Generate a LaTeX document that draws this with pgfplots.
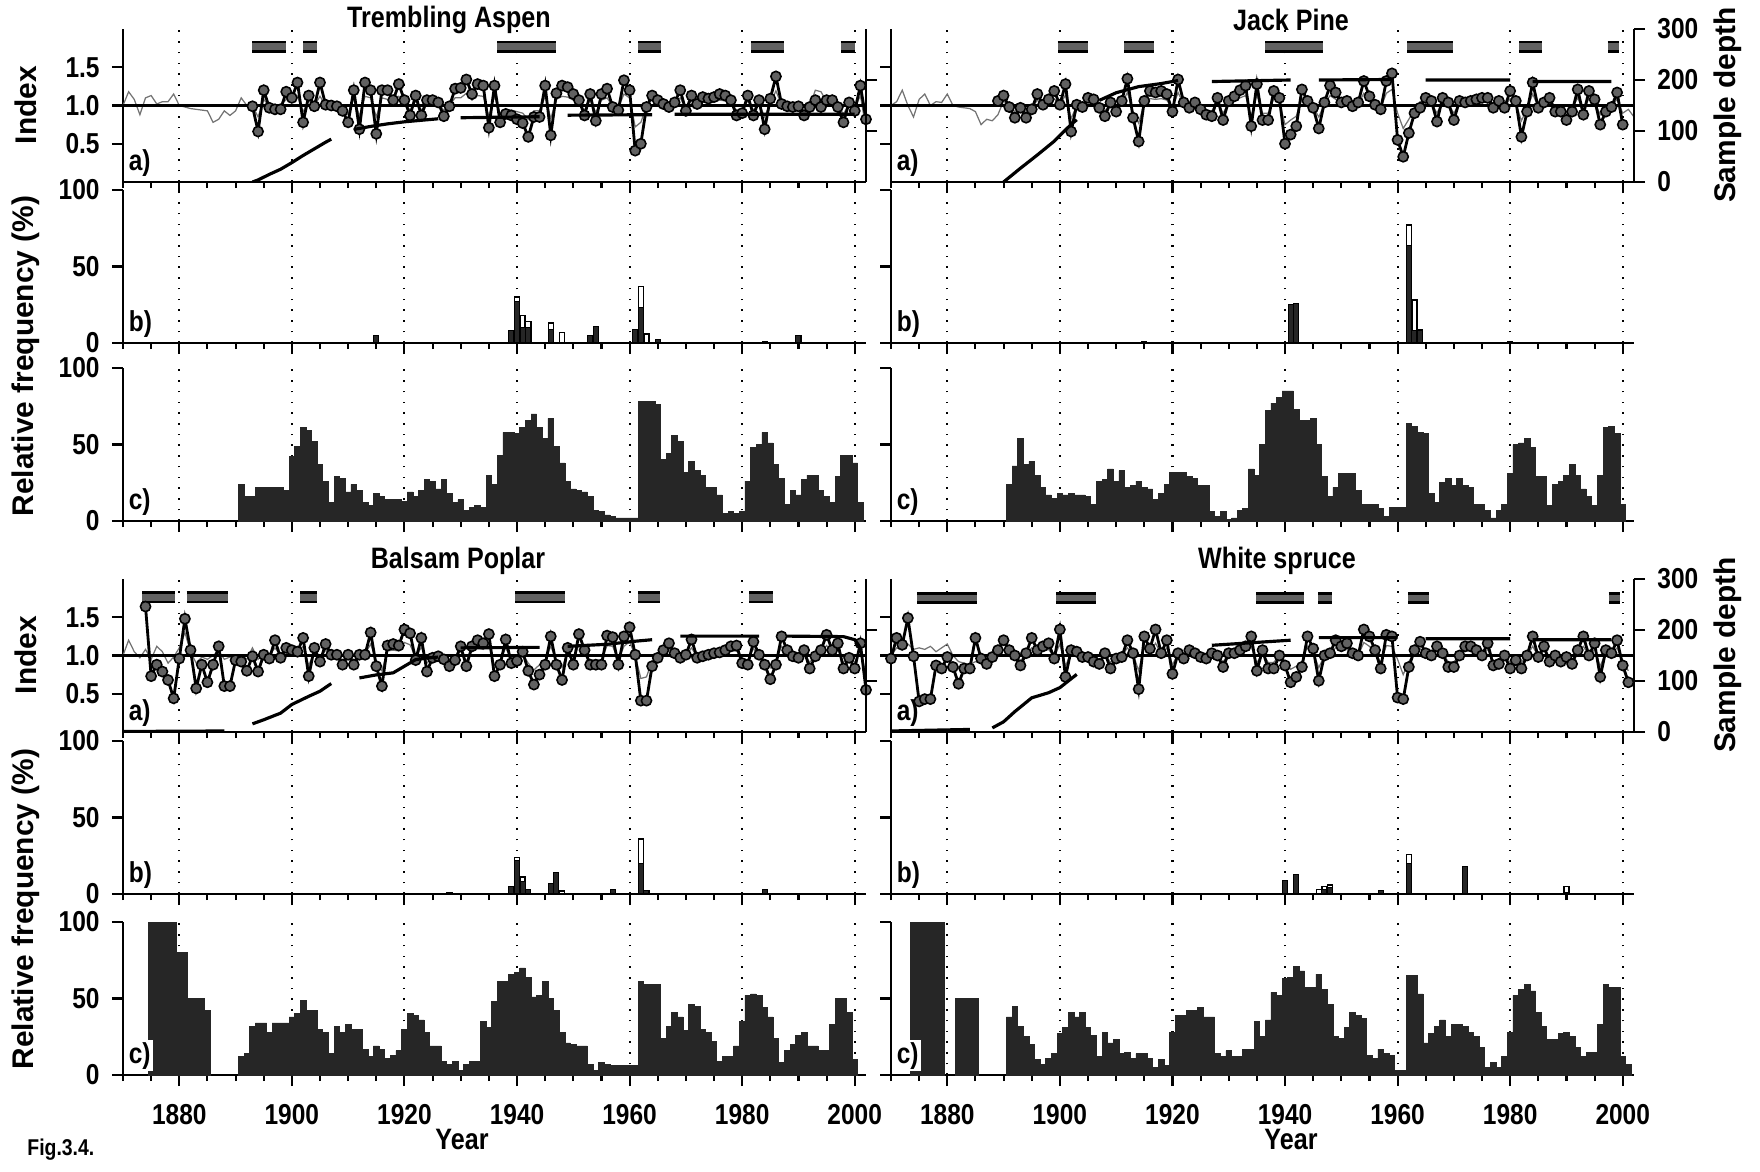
\documentclass[border=0pt]{standalone}
\usepackage{fontspec}
\setmainfont{Liberation Sans}
\newfontfamily\narrowsans{Liberation Sans}[FakeStretch=0.85]
\usepackage{pgfplots}
\usepackage{pgfplotstable}
\pgfplotsset{compat=1.18}

\newcommand\tickfont{\narrowsans\bfseries\fontsize{8.2}{8}\selectfont}
\newcommand\labfont{\bfseries\fontsize{8.5}{9}\selectfont}
\newcommand\titfont{\narrowsans\bfseries\fontsize{8.4}{9}\selectfont}

\pgfplotsset{
  panel/.style={
    scale only axis, width=74.3mm, height=15.3mm, anchor=south west,
    xmin=1870, xmax=2002,
    axis x line=bottom, axis y line=left, axis line style={-, line width=0.6pt},
    xtick={1880,1900,...,2000}, minor xtick={1870,1875,...,2000},
    xticklabels={},
    xmajorgrids,
    major grid style={black, line width=0.6pt, dash pattern=on 0.45pt off 2.6pt},
    tick align=outside, major tick length=1.1mm, minor tick length=0.6mm,
    every tick/.style={black, line width=0.6pt},
    tick label style={font=\tickfont},
    /pgf/number format/assume math mode=true,
  },
  apanel/.style={panel, ymin=0, ymax=2, ytick={0.5,1,1.5}, yticklabels={}},
  fpanel/.style={panel, ymin=0, ymax=100, ytick={0,50,100}, yticklabels={}},
  bottomx/.style={xticklabels={1880,1900,1920,1940,1960,1980,2000},
    xticklabel style={yshift=-0.6mm}},
  depthaxis/.style={
    scale only axis, width=74.3mm, height=15.3mm, anchor=south west,
    xmin=1870, xmax=2002, ymin=0, ymax=300,
    axis x line=none, axis y line=right, axis line style={-, line width=0.6pt},
    tick align=outside, major tick length=1.1mm,
    every tick/.style={black, line width=0.6pt},
    tick label style={font=\tickfont},
    ytick={0,100,200,300}, yticklabels={},
  },
  thinline/.style={black!55, line width=0.35pt, no markers},
  meanline/.style={black, line width=0.8pt, no markers},
  thickline/.style={black, line width=0.8pt, mark=*, mark size=1.45pt,
    mark options={fill=black!62, draw=black, line width=0.45pt}},
  depthline/.style={black, line width=0.9pt, no markers, unbounded coords=jump},
  perout/.style={black, line width=3.4pt, line cap=butt, no markers, unbounded coords=jump},
  perin/.style={black!62, line width=1.8pt, line cap=butt, no markers, unbounded coords=jump},
  histbar/.style={ybar, bar width=1, bar shift=0pt, fill=black!85, draw=black!85, line width=0.2pt},
  blackbar/.style={ybar, bar width=0.9, bar shift=0pt, fill=black!85, draw=black, line width=0.3pt},
  whitebar/.style={ybar, bar width=0.9, bar shift=0pt, fill=white, draw=black, line width=0.4pt},
}
\tikzset{panlab/.style={anchor=south west, font=\tickfont, fill=white, inner sep=0.6pt, xshift=0.3mm, yshift=0.3mm}}

% ---------------- index chronologies: year, thin, thick ----------------
\pgfplotstableread{
year thin thick
1870 1.00 nan
1871 1.18 nan
1872 1.08 nan
1873 0.88 nan
1874 1.10 nan
1875 1.13 nan
1876 1.02 nan
1877 1.05 nan
1878 1.05 nan
1879 1.15 nan
1880 1.00 nan
1881 0.98 nan
1882 0.96 nan
1883 0.95 nan
1884 0.94 nan
1885 0.93 nan
1886 0.78 nan
1887 0.82 nan
1888 0.93 nan
1889 0.87 nan
1890 0.93 nan
1891 1.10 nan
1892 1.00 nan
1893 1.00 0.99
1894 0.85 0.66
1895 1.08 1.20
1896 0.99 0.97
1897 0.97 0.95
1898 1.00 0.95
1899 1.08 1.18
1900 1.04 1.10
1901 1.12 1.30
1902 0.92 0.78
1903 1.06 1.13
1904 1.00 0.99
1905 1.12 1.30
1906 1.00 1.01
1907 0.98 1.00
1908 1.00 0.99
1909 0.96 0.93
1910 0.88 0.78
1911 1.10 1.20
1912 0.86 0.69
1913 1.12 1.30
1914 1.10 1.20
1915 0.85 0.63
1916 1.10 1.20
1917 1.08 1.20
1918 1.03 1.07
1919 1.12 1.28
1920 1.03 1.07
1921 0.94 0.87
1922 1.06 1.13
1923 0.94 0.87
1924 1.03 1.07
1925 1.03 1.07
1926 1.02 1.04
1927 0.94 0.86
1928 1.00 0.99
1929 1.10 1.22
1930 1.10 1.23
1931 1.16 1.34
1932 1.07 1.15
1933 1.13 1.28
1934 1.12 1.26
1935 0.86 0.71
1936 1.12 1.26
1937 0.90 0.78
1938 0.95 0.89
1939 0.94 0.87
1940 0.92 0.82
1941 0.90 0.77
1942 0.82 0.59
1943 0.93 0.85
1944 0.93 0.85
1945 1.12 1.26
1946 0.83 0.61
1947 1.08 1.16
1948 1.12 1.26
1949 1.11 1.24
1950 1.07 1.15
1951 1.03 1.07
1952 0.94 0.87
1953 1.07 1.15
1954 0.91 0.80
1955 1.07 1.15
1956 1.10 1.22
1957 0.99 0.98
1958 0.97 0.94
1959 1.15 1.33
1960 1.10 1.20
1961 0.72 0.41
1962 0.78 0.50
1963 0.99 0.98
1964 1.15 1.13
1965 1.03 1.07
1966 1.01 1.02
1967 0.99 0.98
1968 1.02 1.04
1969 1.10 1.20
1970 0.96 0.93
1971 1.06 1.13
1972 1.01 1.02
1973 1.05 1.11
1974 1.04 1.09
1975 1.05 1.11
1976 1.07 1.15
1977 1.06 1.13
1978 1.03 1.07
1979 0.94 0.87
1980 0.95 0.90
1981 1.06 1.13
1982 0.94 0.87
1983 1.03 1.07
1984 0.85 0.69
1985 1.04 1.09
1986 1.19 1.38
1987 1.01 1.02
1988 1.00 0.99
1989 0.99 0.98
1990 1.00 0.99
1991 0.94 0.87
1992 0.99 0.98
1993 1.20 1.07
1994 1.18 0.98
1995 1.05 1.07
1996 1.03 1.07
1997 0.99 0.98
1998 0.89 0.78
1999 1.02 1.04
2000 0.96 0.93
2001 1.13 1.26
2002 0.70 0.82
}\aspen

\pgfplotstableread{
year thin thick
1870 1.00 nan
1871 1.05 nan
1872 1.20 nan
1873 1.00 nan
1874 0.85 nan
1875 1.08 nan
1876 1.15 nan
1877 1.00 nan
1878 1.05 nan
1879 1.04 nan
1880 1.15 nan
1881 1.00 nan
1882 0.98 nan
1883 0.97 nan
1884 0.96 nan
1885 0.92 nan
1886 0.75 nan
1887 0.82 nan
1888 0.80 nan
1889 0.88 1.06
1890 1.06 1.13
1891 0.99 0.98
1892 0.92 0.84
1893 0.98 0.97
1894 0.92 0.84
1895 0.97 0.95
1896 1.07 1.15
1897 1.00 1.01
1898 1.04 1.08
1899 1.09 1.19
1900 1.00 1.01
1901 1.14 1.28
1902 0.83 0.66
1903 1.00 1.01
1904 0.99 0.98
1905 1.05 1.10
1906 1.04 1.08
1907 0.98 0.97
1908 0.93 0.86
1909 1.02 1.04
1910 0.96 0.92
1911 1.03 1.06
1912 1.17 1.35
1913 0.92 0.84
1914 0.77 0.53
1915 1.03 1.06
1916 1.09 1.19
1917 1.08 1.17
1918 1.09 1.19
1919 1.07 1.15
1920 0.96 0.92
1921 1.17 1.34
1922 1.02 1.04
1923 0.98 0.97
1924 1.02 1.04
1925 0.97 0.95
1926 0.94 0.88
1927 0.93 0.86
1928 1.05 1.10
1929 0.90 0.81
1930 1.03 1.06
1931 1.06 1.12
1932 1.10 1.20
1933 1.13 1.26
1934 0.86 0.73
1935 1.14 1.28
1936 0.90 0.81
1937 0.90 0.81
1938 1.09 1.19
1939 1.05 1.10
1940 0.75 0.50
1941 0.81 0.62
1942 0.86 0.73
1943 1.10 1.21
1944 1.03 1.06
1945 0.98 0.97
1946 0.85 0.70
1947 1.02 1.04
1948 1.13 1.26
1949 1.08 1.17
1950 1.02 1.04
1951 1.03 1.06
1952 1.00 0.99
1953 1.02 1.04
1954 1.16 1.32
1955 1.06 1.12
1956 1.00 1.01
1957 0.97 0.95
1958 1.16 1.32
1959 1.21 1.42
1960 0.90 0.55
1961 0.70 0.33
1962 0.82 0.64
1963 0.95 0.90
1964 1.05 0.97
1965 1.05 1.10
1966 1.03 1.06
1967 0.90 0.79
1968 1.05 1.10
1969 1.02 1.04
1970 0.90 0.81
1971 1.03 1.06
1972 1.02 1.04
1973 1.03 1.06
1974 1.04 1.08
1975 1.05 1.10
1976 1.05 1.10
1977 0.98 0.97
1978 1.03 1.06
1979 0.98 0.97
1980 1.09 1.19
1981 1.03 1.06
1982 0.80 0.59
1983 0.96 0.92
1984 1.15 1.30
1985 0.98 0.97
1986 1.02 1.04
1987 1.05 1.10
1988 0.96 0.92
1989 0.96 0.92
1990 0.90 0.81
1991 0.96 0.92
1992 1.10 1.21
1993 0.94 0.88
1994 1.09 1.19
1995 1.04 1.08
1996 0.88 0.75
1997 0.96 0.92
1998 0.99 0.98
1999 1.08 1.17
2000 0.90 0.75
2001 0.95 nan
2002 0.85 nan
}\jack

\pgfplotstableread{
year thin thick
1870 1.00 nan
1871 1.20 nan
1872 1.05 nan
1873 0.97 nan
1874 1.08 1.64
1875 0.95 0.73
1876 1.12 0.88
1877 1.05 0.79
1878 0.90 0.68
1879 0.98 0.44
1880 1.10 0.96
1881 1.30 1.48
1882 1.05 1.07
1883 0.90 0.57
1884 0.98 0.88
1885 0.95 0.65
1886 1.00 0.88
1887 1.06 1.12
1888 0.95 0.60
1889 0.98 0.60
1890 0.97 0.94
1891 1.00 0.92
1892 0.95 0.80
1893 1.10 0.99
1894 0.95 0.79
1895 1.05 1.01
1896 1.00 0.96
1897 1.10 1.20
1898 1.00 0.97
1899 1.05 1.10
1900 1.04 1.07
1901 1.03 1.05
1902 1.12 1.23
1903 0.87 0.73
1904 1.05 1.10
1905 0.96 0.92
1906 1.07 1.15
1907 1.00 1.01
1908 1.00 1.01
1909 0.94 0.88
1910 1.00 1.01
1911 0.94 0.88
1912 1.00 1.01
1913 1.02 1.01
1914 1.15 1.30
1915 0.93 0.86
1916 0.80 0.60
1917 1.06 1.13
1918 1.07 1.15
1919 1.06 1.13
1920 1.17 1.34
1921 1.14 1.29
1922 0.97 0.94
1923 1.11 1.23
1924 0.90 0.79
1925 0.98 0.97
1926 1.00 0.99
1927 0.98 0.95
1928 0.93 0.86
1929 0.97 0.94
1930 1.06 1.12
1931 0.93 0.86
1932 1.06 1.12
1933 1.10 1.20
1934 1.08 1.16
1935 1.14 1.28
1936 0.87 0.73
1937 0.94 0.88
1938 1.10 1.21
1939 0.95 0.90
1940 0.97 0.93
1941 1.02 1.05
1942 0.90 0.80
1943 0.81 0.62
1944 0.88 0.75
1945 0.94 0.88
1946 1.12 1.25
1947 0.94 0.88
1948 0.84 0.68
1949 1.05 1.10
1950 0.94 0.88
1951 1.14 1.28
1952 1.03 1.07
1953 0.94 0.88
1954 0.94 0.88
1955 0.94 0.88
1956 1.13 1.26
1957 1.12 1.24
1958 0.94 0.88
1959 1.12 1.25
1960 1.18 1.37
1961 1.00 1.01
1962 0.70 0.41
1963 0.72 0.41
1964 0.93 0.86
1965 0.98 0.97
1966 1.03 1.07
1967 1.08 1.16
1968 1.01 1.03
1969 0.98 0.97
1970 1.00 1.01
1971 1.10 1.21
1972 0.98 0.97
1973 1.00 0.99
1974 1.00 1.01
1975 1.01 1.03
1976 1.02 1.04
1977 1.03 1.07
1978 1.06 1.12
1979 1.06 1.13
1980 0.95 0.90
1981 0.94 0.88
1982 1.09 1.18
1983 1.00 1.01
1984 0.94 0.88
1985 0.84 0.69
1986 0.94 0.88
1987 1.12 1.25
1988 1.03 1.07
1989 1.00 0.99
1990 0.98 0.97
1991 1.03 1.07
1992 0.91 0.83
1993 1.00 0.99
1994 1.03 1.07
1995 1.13 1.27
1996 1.03 1.07
1997 1.08 1.16
1998 0.91 0.83
1999 0.98 0.97
2000 0.91 0.83
2001 1.08 1.16
2002 0.75 0.55
}\balsam

\pgfplotstableread{
year thin thick
1870 1.00 0.96
1871 1.10 1.23
1872 1.07 1.14
1873 1.15 1.49
1874 1.08 0.99
1875 1.10 0.40
1876 1.08 0.43
1877 1.12 0.43
1878 1.05 0.87
1879 1.10 0.83
1880 1.15 0.98
1881 1.00 0.85
1882 0.92 0.63
1883 0.90 0.83
1884 0.88 0.83
1885 0.92 1.23
1886 0.90 0.96
1887 0.93 0.89
1888 0.97 0.98
1889 1.03 1.07
1890 1.08 1.20
1891 1.03 1.07
1892 1.00 1.00
1893 0.93 0.87
1894 1.02 1.03
1895 1.10 1.23
1896 1.04 1.07
1897 1.06 1.12
1898 1.08 1.16
1899 0.98 0.96
1900 1.15 1.34
1901 0.86 0.72
1902 1.04 1.07
1903 1.03 1.05
1904 0.99 0.98
1905 0.99 0.98
1906 0.96 0.92
1907 0.94 0.89
1908 1.02 1.03
1909 0.91 0.83
1910 0.98 0.96
1911 0.99 0.98
1912 1.10 1.20
1913 1.02 1.03
1914 0.80 0.56
1915 1.12 1.25
1916 1.04 1.09
1917 1.16 1.34
1918 1.02 1.03
1919 1.10 1.20
1920 0.88 0.76
1921 1.02 1.03
1922 0.98 0.96
1923 1.04 1.07
1924 1.02 1.03
1925 0.99 0.98
1926 0.98 0.96
1927 1.02 1.03
1928 1.00 1.00
1929 0.92 0.85
1930 1.02 1.03
1931 1.02 1.03
1932 1.04 1.07
1933 1.06 1.12
1934 1.12 1.25
1935 0.90 0.80
1936 1.04 1.07
1937 0.91 0.83
1938 0.91 0.83
1939 1.00 1.00
1940 0.93 0.87
1941 0.82 0.65
1942 0.86 0.72
1943 0.92 0.85
1944 1.12 1.25
1945 1.04 1.09
1946 0.84 0.67
1947 1.00 1.00
1948 1.02 1.03
1949 1.10 1.20
1950 1.06 1.12
1951 1.08 1.16
1952 1.02 1.03
1953 1.00 1.00
1954 1.17 1.34
1955 1.12 1.25
1956 1.04 1.07
1957 0.91 0.83
1958 1.13 1.27
1959 1.12 1.25
1960 0.95 0.45
1961 0.75 0.43
1962 0.92 0.85
1963 1.04 1.07
1964 1.09 1.18
1965 1.02 1.03
1966 1.00 1.00
1967 1.06 1.12
1968 1.02 1.03
1969 0.92 0.85
1970 0.92 0.85
1971 1.00 1.00
1972 1.06 1.12
1973 1.06 1.12
1974 1.04 1.07
1975 1.00 1.00
1976 1.08 1.16
1977 0.93 0.87
1978 0.94 0.89
1979 1.00 1.00
1980 0.91 0.83
1981 0.97 0.94
1982 0.91 0.83
1983 1.00 1.00
1984 1.12 1.25
1985 0.99 0.98
1986 1.06 1.12
1987 0.96 0.92
1988 1.00 1.00
1989 0.96 0.92
1990 0.99 0.98
1991 0.94 0.89
1992 1.04 1.07
1993 1.12 1.25
1994 1.00 1.00
1995 1.08 1.16
1996 0.86 0.72
1997 1.04 1.07
1998 1.02 1.03
1999 1.10 1.20
2000 0.93 0.87
2001 0.80 0.65
}\white

% ---------------- sample depth (gaps as nan) ----------------
\pgfplotstableread{
x y
1893 0
1894 4
1896 15
1898 25
1900 38
1902 52
1904 65
1906 78
1907 84
1908 nan
1911 103
1914 109
1917 114
1920 118
1923 121
1926 124
1927 nan
1930 126
1944 128
1945 nan
1949 131
1964 132
1965 nan
1968 133
2000 133
}\aspendepth

\pgfplotstableread{
x y
1890 0
1893 27
1896 53
1899 80
1902 113
1903 122
1904 nan
1907 160
1910 175
1914 187
1918 193
1921 199
1922 nan
1927 197
1941 200
1942 nan
1946 200
1959 201
1960 nan
1965 200
1980 200
1981 nan
1984 197
1998 197
}\jackdepth

\pgfplotstableread{
x y
1870 1
1888 2
1889 nan
1893 16
1895 24
1898 37
1900 54
1903 70
1905 80
1907 95
1908 nan
1912 106
1915 112
1918 116
1920 129
1922 142
1924 145
1926 147
1927 nan
1930 165
1944 166
1945 nan
1949 168
1956 172
1961 178
1964 181
1965 nan
1969 188
1983 188
1984 nan
1988 188
1998 187
2000 181
2001 165
}\balsamdepth

\pgfplotstableread{
x y
1870 2
1884 5
1885 nan
1888 8
1890 20
1892 40
1895 67
1898 77
1900 87
1903 113
1904 nan
1927 170
1941 180
1942 nan
1946 185
1960 185
1961 nan
1965 183
1980 183
1981 nan
1984 181
1998 181
}\whitedepth

% ---------------- periods (bars above the index) ----------------
\pgfplotstableread{
x y
1893 1.77
1899 1.77
1900 nan
1902 1.77
1904.5 1.77
1905 nan
1936.5 1.77
1947 1.77
1948 nan
1961.5 1.77
1965.5 1.77
1966 nan
1981.5 1.77
1987.5 1.77
1988 nan
1997.5 1.77
2000 1.77
}\aspenper

\pgfplotstableread{
x y
1899.6 1.77
1905 1.77
1906 nan
1911.4 1.77
1916.8 1.77
1917 nan
1936.5 1.77
1946.8 1.77
1947 nan
1961.7 1.77
1969.8 1.77
1970 nan
1981.6 1.77
1985.7 1.77
1986 nan
1997.3 1.77
1999.3 1.77
}\jackper

\pgfplotstableread{
x y
1873.4 1.76
1879.3 1.76
1880 nan
1881.3 1.76
1888.6 1.76
1889 nan
1901.5 1.76
1904.5 1.76
1905 nan
1939.6 1.76
1948.5 1.76
1949 nan
1961.5 1.76
1965.4 1.76
1966 nan
1981.3 1.76
1985.5 1.76
}\balsamper

\pgfplotstableread{
x y
1874.6 1.75
1885.2 1.75
1886 nan
1899.4 1.75
1906.4 1.75
1907 nan
1934.8 1.75
1943.4 1.75
1944 nan
1945.9 1.75
1948.4 1.75
1949 nan
1961.9 1.75
1965.6 1.75
1966 nan
1997.5 1.75
1999.6 1.75
}\whiteper

% ---------------- c) relative frequency ----------------
\pgfplotstableread{
year f
1891 24
1892 16
1893 16
1894 22
1895 22
1896 22
1897 22
1898 22
1899 20
1900 42
1901 49
1902 61
1903 59
1904 52
1905 37
1906 26
1907 12
1908 29
1909 28
1910 19
1911 24
1912 20
1913 12
1914 10
1915 18
1916 16
1917 14
1918 14
1919 14
1920 13
1921 19
1922 16
1923 20
1924 27
1925 26
1926 21
1927 27
1928 18
1929 12
1930 14
1931 7
1932 9
1933 10
1934 9
1935 30
1936 24
1937 43
1938 58
1939 58
1940 57
1941 61
1942 66
1943 70
1944 61
1945 54
1946 67
1947 49
1948 38
1949 26
1950 21
1951 20
1952 19
1953 16
1954 7
1955 6
1956 4
1957 3
1958 2
1959 2
1960 2
1961 2
1962 78
1963 78
1964 78
1965 76
1966 40
1967 44
1968 56
1969 52
1970 32
1971 39
1972 33
1973 30
1974 22
1975 22
1976 17
1977 5
1978 6
1979 5
1980 6
1981 26
1982 48
1983 50
1984 58
1985 51
1986 37
1987 28
1988 11
1989 20
1990 17
1991 27
1992 30
1993 30
1994 20
1995 16
1996 12
1997 29
1998 43
1999 43
2000 38
2001 12
}\aspenc

\pgfplotstableread{
year f
1891 24
1892 36
1893 54
1894 37
1895 39
1896 30
1897 22
1898 17
1899 15
1900 18
1901 17
1902 18
1903 17
1904 17
1905 16
1906 11
1907 26
1908 27
1909 34
1910 26
1911 33
1912 22
1913 23
1914 26
1915 22
1916 21
1917 14
1918 18
1919 24
1920 32
1921 32
1922 32
1923 29
1924 28
1925 23
1926 23
1927 6
1928 3
1929 6
1930 1
1931 2
1932 7
1933 8
1934 34
1935 30
1936 50
1937 72
1938 77
1939 81
1940 85
1941 85
1942 73
1943 66
1944 66
1945 67
1946 50
1947 29
1948 16
1949 22
1950 31
1951 31
1952 31
1953 20
1954 11
1955 11
1956 11
1957 8
1958 3
1959 9
1960 9
1961 9
1962 64
1963 62
1964 58
1965 57
1966 18
1967 12
1968 25
1969 28
1970 23
1971 28
1972 23
1973 22
1974 11
1975 11
1976 7
1977 2
1978 7
1979 11
1980 31
1981 50
1982 51
1983 54
1984 48
1985 29
1986 29
1987 10
1988 24
1989 26
1990 30
1991 37
1992 30
1993 21
1994 16
1995 10
1996 30
1997 61
1998 62
1999 57
2000 11
}\jackc

\pgfplotstableread{
year f
1875 100
1876 100
1877 100
1878 100
1879 100
1880 80
1881 80
1882 50
1883 50
1884 50
1885 42
1891 12
1892 14
1893 32
1894 34
1895 34
1896 28
1897 34
1898 34
1899 34
1900 38
1901 40
1902 49
1903 42
1904 42
1905 30
1906 28
1907 14
1908 32
1909 28
1910 33
1911 30
1912 30
1913 17
1914 12
1915 19
1916 17
1917 11
1918 13
1919 16
1920 30
1921 40
1922 39
1923 36
1924 28
1925 19
1926 19
1927 9
1928 7
1929 9
1930 3
1931 7
1932 9
1933 9
1934 35
1935 31
1936 48
1937 61
1938 61
1939 66
1940 67
1941 70
1942 64
1943 51
1944 52
1945 61
1946 50
1947 42
1948 28
1949 21
1950 20
1951 19
1952 19
1953 7
1954 3
1955 8
1956 7
1957 6
1958 6
1959 6
1960 6
1961 6
1962 61
1963 59
1964 59
1965 59
1966 24
1967 32
1968 41
1969 38
1970 29
1971 46
1972 45
1973 30
1974 28
1975 22
1976 9
1977 12
1978 12
1979 19
1980 35
1981 52
1982 53
1983 52
1984 44
1985 38
1986 24
1987 8
1988 16
1989 20
1990 26
1991 28
1992 19
1993 19
1994 16
1995 16
1996 33
1997 50
1998 50
1999 41
2000 10
}\balsamc

\pgfplotstableread{
year f
1874 100
1875 100
1876 100
1877 100
1878 100
1879 100
1882 50
1883 50
1884 50
1885 50
1891 38
1892 45
1893 32
1894 25
1895 20
1896 10
1897 7
1898 11
1899 14
1900 27
1901 31
1902 41
1903 38
1904 41
1905 31
1906 26
1907 12
1908 28
1909 21
1910 23
1911 14
1912 15
1913 11
1914 14
1915 14
1916 11
1917 5
1918 10
1919 6
1920 28
1921 39
1922 39
1923 42
1924 42
1925 44
1926 38
1927 38
1928 14
1929 12
1930 16
1931 12
1932 12
1933 17
1934 17
1935 35
1936 25
1937 36
1938 54
1939 52
1940 63
1941 64
1942 71
1943 68
1944 57
1945 57
1946 66
1947 56
1948 46
1949 25
1950 24
1951 31
1952 41
1953 39
1954 37
1955 13
1956 11
1957 17
1958 14
1959 13
1960 3
1961 3
1962 65
1963 65
1964 53
1965 21
1966 27
1967 32
1968 36
1969 25
1970 33
1971 33
1972 32
1973 28
1974 25
1975 18
1976 5
1977 8
1978 5
1979 12
1980 28
1981 52
1982 56
1983 59
1984 55
1985 41
1986 32
1987 23
1988 23
1989 27
1990 28
1991 25
1992 18
1993 12
1994 15
1995 15
1996 33
1997 59
1998 57
1999 57
2000 12
2001 7
}\whitec

\begin{document}
\begin{tikzpicture}
\useasboundingbox (0,0) rectangle (176mm,-117.2mm);

% ===================== Trembling Aspen =====================
\begin{axis}[apanel, at={(12.3mm,-18.2mm)}, yticklabels={0.5,1.0,1.5}]
  \addplot[thinline] table[x=year, y=thin] {\aspen};
  \addplot[meanline] coordinates {(1870,1) (2002,1)};
  \addplot[thickline] table[x=year, y=thick] {\aspen};
  \addplot[perout] table {\aspenper};
  \addplot[perin] table {\aspenper};
  \node[panlab] at (rel axis cs:0,0) {a)};
\end{axis}
\begin{axis}[depthaxis, at={(12.3mm,-18.2mm)}, ytick={100,200}]
  \addplot[depthline] table {\aspendepth};
\end{axis}
\begin{axis}[fpanel, at={(12.3mm,-34.3mm)}, yticklabels={0,50,100}]
  \addplot[whitebar] coordinates {(1940,30) (1941,18) (1942,14) (1946,13) (1948,7) (1962,37) (1963,6)};
  \addplot[blackbar] coordinates {(1915,5) (1939,8) (1940,27) (1941,10) (1942,10) (1946,9) (1953,5) (1954,11) (1961,9) (1962,23) (1965,2) (1984,1) (1990,5)};
  \node[panlab] at (rel axis cs:0,0) {b)};
\end{axis}
\begin{axis}[fpanel, at={(12.3mm,-52.1mm)}, yticklabels={0,50,100}]
  \addplot[histbar] table[x=year, y=f] {\aspenc};
  \node[panlab] at (rel axis cs:0,0) {c)};
\end{axis}

% ===================== Jack Pine =====================
\begin{axis}[apanel, at={(89.1mm,-18.2mm)}]
  \addplot[thinline] table[x=year, y=thin] {\jack};
  \addplot[meanline] coordinates {(1870,1) (2002,1)};
  \addplot[thickline] table[x=year, y=thick] {\jack};
  \addplot[perout] table {\jackper};
  \addplot[perin] table {\jackper};
  \node[panlab] at (rel axis cs:0,0) {a)};
\end{axis}
\begin{axis}[depthaxis, at={(89.1mm,-18.2mm)}, yticklabels={0,100,200,300}]
  \addplot[depthline] table {\jackdepth};
\end{axis}
\begin{axis}[fpanel, at={(89.1mm,-34.3mm)}]
  \addplot[whitebar] coordinates {(1962,77) (1963,28) (1964,9)};
  \addplot[blackbar] coordinates {(1915,1) (1941,25) (1942,26) (1962,64) (1963,8) (1964,8) (1980,1)};
  \node[panlab] at (rel axis cs:0,0) {b)};
\end{axis}
\begin{axis}[fpanel, at={(89.1mm,-52.1mm)}]
  \addplot[histbar] table[x=year, y=f] {\jackc};
  \node[panlab] at (rel axis cs:0,0) {c)};
\end{axis}

% ===================== Balsam Poplar =====================
\begin{axis}[apanel, at={(12.3mm,-73.2mm)}, yticklabels={0.5,1.0,1.5}]
  \addplot[thinline] table[x=year, y=thin] {\balsam};
  \addplot[meanline] coordinates {(1870,1) (2002,1)};
  \addplot[thickline] table[x=year, y=thick] {\balsam};
  \addplot[perout] table {\balsamper};
  \addplot[perin] table {\balsamper};
  \node[panlab] at (rel axis cs:0,0) {a)};
\end{axis}
\begin{axis}[depthaxis, at={(12.3mm,-73.2mm)}, ytick={100,200}]
  \addplot[depthline] table {\balsamdepth};
\end{axis}
\begin{axis}[fpanel, at={(12.3mm,-89.4mm)}, yticklabels={0,50,100}]
  \addplot[whitebar] coordinates {(1940,24) (1941,11) (1948,2) (1962,36)};
  \addplot[blackbar] coordinates {(1928,1) (1939,5) (1940,22) (1941,8) (1942,3) (1946,7) (1947,14) (1957,3) (1962,20) (1963,2) (1984,3)};
  \node[panlab] at (rel axis cs:0,0) {b)};
\end{axis}
\begin{axis}[fpanel, bottomx, at={(12.3mm,-107.5mm)}, yticklabels={0,50,100}]
  \addplot[histbar] table[x=year, y=f] {\balsamc};
  \node[panlab] at (rel axis cs:0,0) {c)};
\end{axis}

% ===================== White spruce =====================
\begin{axis}[apanel, at={(89.1mm,-73.2mm)}]
  \addplot[thinline] table[x=year, y=thin] {\white};
  \addplot[meanline] coordinates {(1870,1) (2002,1)};
  \addplot[thickline] table[x=year, y=thick] {\white};
  \addplot[perout] table {\whiteper};
  \addplot[perin] table {\whiteper};
  \node[panlab] at (rel axis cs:0,0) {a)};
\end{axis}
\begin{axis}[depthaxis, at={(89.1mm,-73.2mm)}, yticklabels={0,100,200,300}]
  \addplot[depthline] table {\whitedepth};
\end{axis}
\begin{axis}[fpanel, at={(89.1mm,-89.4mm)}]
  \addplot[whitebar] coordinates {(1946,3) (1947,5) (1948,6) (1962,26) (1990,5)};
  \addplot[blackbar] coordinates {(1940,9) (1942,13) (1947,3) (1948,4) (1957,2) (1962,20) (1972,18) (1990,1)};
  \node[panlab] at (rel axis cs:0,0) {b)};
\end{axis}
\begin{axis}[fpanel, bottomx, at={(89.1mm,-107.5mm)}]
  \addplot[histbar] table[x=year, y=f] {\whitec};
  \node[panlab] at (rel axis cs:0,0) {c)};
\end{axis}

% ===================== titles and labels =====================
\node[font=\titfont] at (44.9mm,-2.0mm) {Trembling Aspen};
\node[font=\titfont] at (129.1mm,-2.0mm) {Jack Pine};
\node[font=\titfont] at (45.8mm,-56.1mm) {Balsam Poplar};
\node[font=\titfont] at (127.7mm,-56.1mm) {White spruce};
\node[font=\labfont, rotate=90] at (2.6mm,-10.5mm) {Index};
\node[font=\labfont, rotate=90] at (2.6mm,-65.5mm) {Index};
\node[font=\labfont, rotate=90] at (2.6mm,-35.6mm) {Relative frequency (\%)};
\node[font=\labfont, rotate=90] at (2.6mm,-90.9mm) {Relative frequency (\%)};
\node[font=\labfont, rotate=90] at (172.8mm,-10.5mm) {Sample depth};
\node[font=\labfont, rotate=90] at (172.8mm,-65.5mm) {Sample depth};
\node[font=\titfont] at (46.2mm,-113.9mm) {Year};
\node[font=\titfont] at (129.1mm,-113.9mm) {Year};
\node[font=\narrowsans\bfseries\fontsize{6.5}{7}\selectfont, anchor=west] at (1.5mm,-115.0mm) {Fig.3.4.};
\end{tikzpicture}
\end{document}
